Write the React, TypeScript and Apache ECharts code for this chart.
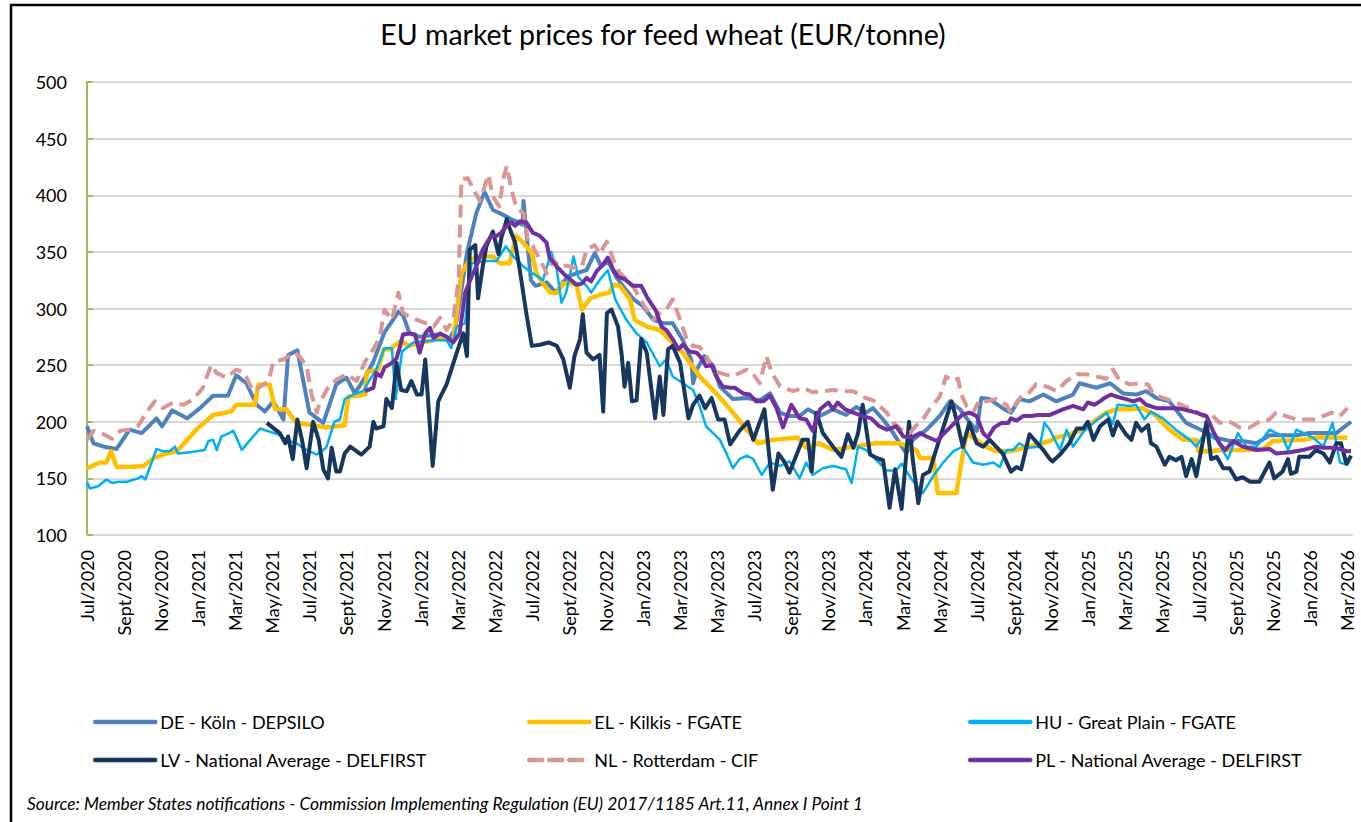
import React, { useEffect, useRef } from 'react';
import * as echarts from 'echarts';

// x = months since Jul 2020 (0 = Jul/2020), y = EUR/tonne
const X_LABELS = [
  'Jul/2020', 'Sept/2020', 'Nov/2020', 'Jan/2021', 'Mar/2021', 'May/2021',
  'Jul/2021', 'Sept/2021', 'Nov/2021', 'Jan/2022', 'Mar/2022', 'May/2022',
  'Jul/2022', 'Sept/2022', 'Nov/2022', 'Jan/2023', 'Mar/2023', 'May/2023',
  'Jul/2023', 'Sept/2023', 'Nov/2023', 'Jan/2024', 'Mar/2024', 'May/2024',
  'Jul/2024', 'Sept/2024', 'Nov/2024', 'Jan/2025', 'Mar/2025', 'May/2025',
  'Jul/2025', 'Sept/2025', 'Nov/2025', 'Jan/2026', 'Mar/2026',
];

const NAMES = [
  'DE - Köln - DEPSILO',
  'EL - Kilkis - FGATE',
  'HU - Great Plain - FGATE',
  'LV - National Average - DELFIRST',
  'NL - Rotterdam - CIF',
  'PL - National Average - DELFIRST',
];

const DE: [number, number][] = [
  [0,196],[0.35,181],[0.9,178],[1.6,176],[2.3,193],[2.95,190],[3.75,203],[4.05,196],[4.6,210],[5.4,203],[6.1,212],[6.8,223],[7.6,223],[8.05,241],[8.6,234],[9.15,215],[9.6,209],[10.05,218],[10.6,202],[10.85,259],[11.35,263],[12.0,208],[12.75,199],[13.45,233],[14.0,239],[14.45,225],[15.0,239],[15.45,253],[16.05,279],[16.8,297],[17.05,294],[17.4,278],[17.95,275],[18.9,277],[19.5,272],[19.8,280],[19.95,290],[20.5,349],[21.0,384],[21.45,403],[21.9,387],[22.3,384],[23.0,378],[23.5,374],[23.55,395],[23.95,325],[24.2,320],[24.8,323],[25.3,314],[25.9,328],[26.4,331],[26.95,334],[27.4,349],[27.75,337],[28.1,342],[28.55,328],[28.9,320],[29.5,308],[30.0,302],[30.55,290],[31.1,287],[31.6,287],[32.15,272],[32.6,255],[32.7,234],[32.9,246],[33.3,258],[33.8,249],[34.15,231],[34.85,220],[35.6,221],[36.3,219],[36.85,225],[37.4,208],[37.9,205],[38.45,205],[38.9,211],[39.55,205],[40.25,211],[40.95,206],[41.5,213],[42.05,208],[42.4,212],[42.95,202],[43.5,190],[44.2,172],[44.55,184],[45.3,193],[46.0,205],[46.55,218],[47.1,211],[47.6,200],[48.0,192],[48.25,221],[48.7,220],[49.4,212],[49.85,208],[50.3,220],[50.85,218],[51.6,224],[52.3,218],[53.2,224],[53.55,234],[54.45,230],[55.2,234],[55.9,225],[56.6,224],[57.15,227],[57.7,221],[58.4,218],[59.3,199],[60.2,192],[60.9,186],[61.65,183],[62.35,183],[63.1,181],[63.8,188],[64.5,188],[65.25,188],[65.95,190],[66.7,190],[67.4,190],[68.2,200],
];

const EL: [number, number][] = [
  [0,159],[0.7,164],[1.05,164],[1.3,174],[1.6,160],[2.3,160],[3.05,161],[3.6,168],[4.3,172],[4.85,174],[5.4,184],[5.9,193],[6.8,206],[7.8,209],[8.05,215],[9.05,215],[9.25,233],[9.85,233],[10.15,211],[10.75,211],[11.3,199],[12.2,197],[12.9,195],[13.9,197],[14.1,222],[15.0,224],[15.1,244],[15.7,246],[16.0,264],[16.35,264],[16.9,271],[17.4,267],[18.0,270],[18.7,272],[19.2,275],[19.75,270],[20.2,331],[20.65,343],[21.2,346],[21.9,346],[22.25,340],[22.8,340],[23.15,364],[23.55,358],[24.0,349],[24.25,331],[24.6,322],[25.0,314],[25.35,314],[25.7,322],[26.4,322],[26.7,299],[27.15,309],[27.65,312],[28.2,314],[28.4,321],[28.75,320],[29.3,308],[29.55,290],[30.2,284],[30.9,281],[31.45,272],[32.15,261],[33.05,240],[33.95,225],[34.7,211],[36.2,181],[37.0,184],[38.35,186],[38.8,177],[39.5,181],[40.25,175],[41.3,178],[42.6,181],[43.85,181],[44.75,175],[44.95,168],[45.65,168],[45.9,137],[46.9,137],[47.45,190],[48.5,178],[49.05,174],[49.8,174],[50.85,178],[51.95,183],[52.3,186],[53.0,189],[53.75,193],[54.45,202],[55.0,208],[55.55,211],[56.3,211],[56.95,212],[57.7,205],[58.4,193],[59.15,184],[59.85,184],[59.95,174],[60.55,174],[61.3,175],[62.7,175],[63.45,176],[64.0,183],[65.6,184],[66.3,186],[68.0,186],
];

const HU: [number, number][] = [
  [0,147],[0.15,141],[0.6,143],[1.05,149],[1.35,146],[1.7,147],[2.15,147],[2.75,150],[2.95,152],[3.15,149],[3.75,176],[4.1,174],[4.45,174],[4.75,178],[4.9,172],[5.55,173],[6.35,175],[6.55,183],[6.8,184],[7.0,175],[7.25,187],[7.55,189],[7.9,192],[8.35,175],[8.7,182],[9.35,194],[9.7,192],[10.3,189],[10.75,184],[11.3,181],[11.85,175],[12.4,171],[12.9,177],[13.35,200],[13.65,202],[13.9,220],[14.35,224],[14.9,227],[15.25,237],[15.6,246],[16.05,265],[16.45,265],[16.65,220],[17.0,262],[17.6,270],[18.3,271],[18.85,272],[19.4,272],[19.65,265],[19.95,284],[20.4,287],[20.55,314],[20.75,340],[21.55,342],[22.1,342],[22.6,355],[23.0,346],[23.55,337],[24.05,331],[24.6,325],[25.05,350],[25.35,334],[25.6,305],[25.85,314],[26.25,346],[26.5,328],[26.95,320],[27.2,314],[27.65,325],[28.1,334],[28.5,308],[29.1,290],[29.65,278],[30.2,270],[30.9,249],[31.25,255],[31.6,240],[32.7,228],[33.05,214],[33.4,196],[34.15,184],[34.5,172],[34.85,159],[35.2,167],[35.6,170],[35.95,167],[36.4,153],[36.85,164],[37.4,161],[37.9,165],[38.45,150],[38.8,164],[39.15,153],[39.7,159],[40.25,161],[40.95,158],[41.25,146],[41.6,178],[42.05,175],[42.6,166],[43.15,157],[43.65,157],[43.95,163],[44.5,149],[45.1,137],[45.65,152],[46.2,164],[46.75,174],[47.25,178],[47.8,164],[48.35,162],[48.9,164],[49.25,160],[49.6,175],[49.95,175],[50.3,181],[50.7,177],[51.4,178],[51.65,199],[51.95,193],[52.1,188],[52.5,175],[52.85,193],[53.2,178],[53.75,191],[54.3,199],[55.0,208],[55.35,198],[55.6,215],[56.25,214],[56.6,215],[57.05,202],[57.4,209],[58.05,203],[58.75,193],[59.5,184],[59.85,178],[60.3,190],[60.95,184],[61.55,167],[62.1,190],[62.55,178],[63.1,178],[63.8,193],[64.5,187],[64.8,175],[65.25,193],[66.15,186],[66.7,178],[67.2,199],[67.6,164],[68.0,162],[68.2,170],
];

const LV: [number, number][] = [
  [9.7,199],[10.4,190],[10.7,181],[10.85,187],[11.1,167],[11.35,202],[11.6,184],[11.85,159],[12.2,200],[12.5,184],[12.75,158],[13.0,150],[13.2,177],[13.45,156],[13.65,156],[13.9,172],[14.2,178],[14.8,171],[15.25,178],[15.45,200],[15.6,194],[16.0,196],[16.15,220],[16.45,212],[16.7,252],[16.95,228],[17.25,227],[17.5,236],[17.8,224],[18.05,224],[18.25,255],[18.65,161],[18.95,218],[19.4,233],[19.95,261],[20.3,278],[20.5,258],[20.65,352],[20.95,356],[21.1,309],[21.35,337],[21.55,355],[21.9,368],[22.2,348],[22.35,362],[22.65,379],[22.8,371],[23.1,358],[23.35,334],[23.7,296],[24.0,267],[24.45,268],[24.9,270],[25.35,267],[25.7,255],[26.05,230],[26.3,258],[26.6,273],[26.75,295],[26.95,261],[27.3,255],[27.65,259],[27.85,209],[28.05,296],[28.3,299],[28.65,284],[28.85,259],[29.0,231],[29.2,252],[29.4,218],[29.65,219],[29.9,273],[30.2,261],[30.65,203],[30.9,240],[31.1,206],[31.35,264],[31.6,267],[32.0,252],[32.45,203],[32.7,215],[33.05,223],[33.35,212],[33.7,221],[34.05,202],[34.4,202],[34.7,180],[35.2,192],[35.65,200],[35.95,184],[36.55,211],[37.0,140],[37.3,172],[37.65,164],[37.9,155],[38.6,184],[38.9,184],[39.1,156],[39.35,208],[39.7,190],[40.25,178],[40.7,169],[41.05,189],[41.35,177],[41.6,190],[41.85,215],[42.25,171],[42.6,168],[42.95,166],[43.3,124],[43.6,158],[43.95,123],[44.35,200],[44.55,167],[44.85,128],[45.1,153],[45.45,156],[45.75,172],[46.1,190],[46.65,218],[47.0,196],[47.25,178],[47.6,199],[48.0,181],[48.35,178],[48.7,184],[49.4,172],[49.85,156],[50.15,160],[50.4,158],[50.85,189],[51.6,175],[51.95,167],[52.1,165],[52.5,171],[53.0,181],[53.4,194],[53.75,194],[54.0,200],[54.3,184],[54.65,196],[55.1,202],[55.35,188],[55.6,200],[56.05,189],[56.35,184],[56.6,199],[56.9,192],[57.25,197],[57.4,181],[57.7,178],[58.15,162],[58.4,169],[58.75,166],[59.05,169],[59.3,152],[59.6,167],[59.85,152],[60.4,200],[60.65,167],[60.95,169],[61.3,159],[61.65,159],[62.0,149],[62.35,151],[62.75,147],[63.25,147],[63.8,164],[64.05,150],[64.5,156],[64.8,167],[64.95,154],[65.25,156],[65.4,169],[65.95,169],[66.3,175],[66.7,172],[67.05,164],[67.4,181],[67.65,181],[67.95,163],[68.2,170],
];

const NL: [number, number][] = [
  [0,184],[0.35,192],[0.9,189],[1.35,185],[1.8,192],[2.3,193],[2.75,196],[3.2,208],[3.65,218],[4.1,212],[4.65,217],[5.2,215],[5.75,220],[6.25,230],[6.7,250],[7.0,243],[7.55,239],[8.05,246],[8.5,243],[8.95,227],[9.35,231],[9.8,236],[10.05,253],[10.6,255],[11.15,261],[11.4,259],[11.85,249],[12.1,225],[12.4,208],[12.55,217],[13.0,230],[13.45,237],[14.0,242],[14.55,236],[15.0,253],[15.45,264],[15.8,275],[16.05,299],[16.45,290],[16.8,314],[17.05,296],[17.4,293],[17.95,289],[18.7,284],[19.05,292],[19.4,281],[19.75,290],[20.05,325],[20.2,414],[20.55,415],[20.85,405],[21.2,395],[21.65,418],[21.9,399],[22.25,390],[22.45,414],[22.65,426],[22.9,405],[23.15,390],[23.55,384],[23.8,358],[24.05,355],[24.45,343],[24.8,331],[25.15,343],[25.5,337],[25.85,338],[26.25,336],[26.7,337],[26.95,352],[27.4,356],[27.65,348],[28.05,359],[28.4,343],[28.75,331],[29.1,326],[29.45,320],[29.85,308],[30.55,290],[30.9,296],[31.25,299],[31.6,308],[32.0,290],[32.35,273],[32.7,267],[33.05,266],[33.4,258],[33.8,246],[34.15,243],[34.85,240],[35.2,243],[35.6,246],[35.95,242],[36.3,234],[36.65,258],[36.95,243],[37.4,231],[38.1,227],[38.65,230],[39.15,226],[39.7,227],[40.25,228],[40.8,227],[41.35,227],[41.85,222],[42.4,219],[42.75,214],[43.15,208],[43.5,199],[43.95,193],[44.4,190],[44.75,197],[45.1,202],[45.45,211],[46.0,222],[46.35,240],[46.65,236],[47.0,238],[47.15,225],[47.45,214],[47.8,208],[48.15,219],[48.5,218],[49.05,220],[49.6,215],[49.85,208],[50.15,217],[50.5,224],[50.85,226],[51.2,233],[51.6,232],[51.95,230],[52.3,227],[52.85,236],[53.4,242],[53.9,242],[54.45,240],[55.0,238],[55.35,246],[55.7,237],[56.25,233],[56.8,234],[57.25,233],[57.5,225],[58.05,221],[58.6,218],[59.15,214],[59.65,211],[60.2,205],[60.65,207],[61.1,199],[61.65,200],[62.2,195],[62.75,195],[63.25,200],[63.8,202],[64.15,208],[64.7,205],[65.25,202],[65.8,202],[66.3,202],[66.7,205],[67.15,208],[67.6,205],[68.0,212],
];

const PL: [number, number][] = [
  [15.0,227],[15.45,230],[15.6,243],[15.85,240],[16.05,248],[16.45,252],[16.7,256],[16.9,267],[17.05,277],[17.4,278],[17.7,277],[17.95,261],[18.25,278],[18.5,283],[18.7,274],[19.05,278],[19.4,275],[19.75,270],[20.1,278],[20.4,314],[20.75,328],[21.0,337],[21.35,352],[21.8,364],[22.1,364],[22.35,367],[22.65,373],[22.9,376],[23.1,373],[23.35,377],[23.7,376],[24.05,367],[24.45,364],[24.8,358],[24.95,345],[25.35,337],[25.7,331],[26.05,326],[26.4,321],[26.7,322],[26.95,327],[27.2,324],[27.5,333],[27.85,339],[28.1,345],[28.4,334],[28.65,328],[29.0,326],[29.45,320],[29.9,320],[30.25,309],[30.7,298],[31.0,284],[31.25,281],[31.6,273],[31.9,264],[32.15,268],[32.5,262],[32.9,261],[33.15,256],[33.4,249],[33.7,250],[33.95,240],[34.3,231],[34.7,230],[34.95,230],[35.4,225],[35.75,224],[36.1,218],[36.5,218],[36.85,223],[37.2,212],[37.55,195],[38.0,215],[38.45,203],[38.8,202],[39.15,192],[39.55,211],[40.0,217],[40.25,211],[40.5,217],[40.9,211],[41.35,208],[41.85,205],[42.3,203],[42.75,196],[43.15,193],[43.65,196],[44.05,187],[44.5,186],[44.95,190],[45.3,187],[45.85,183],[46.2,189],[46.75,198],[47.2,206],[47.6,208],[48.0,205],[48.35,190],[48.6,186],[48.95,195],[49.35,199],[49.7,199],[49.85,203],[50.15,201],[50.5,205],[50.95,205],[51.3,206],[51.95,206],[52.65,211],[53.2,214],[53.75,211],[54.0,217],[54.35,215],[54.65,218],[54.9,221],[55.25,224],[55.6,222],[56.05,220],[56.45,218],[56.8,220],[57.15,215],[57.7,212],[58.25,212],[58.75,212],[59.15,211],[59.85,208],[60.4,205],[60.75,192],[61.1,181],[61.4,175],[61.85,183],[62.35,178],[63.1,175],[63.8,176],[64.15,172],[64.9,173],[65.6,175],[66.3,178],[66.7,177],[67.4,177],[67.95,174],[68.2,174],
];

const TITLE = 'EU market prices for feed wheat (EUR/tonne)';
const SOURCE = 'Source: Member States notifications - Commission Implementing Regulation (EU) 2017/1185 Art.11, Annex I Point 1';

const FONT = 'Lato';

export default function App() {
  const ref = useRef<HTMLDivElement>(null);

  useEffect(() => {
    if (!ref.current) return;
    const chart = echarts.init(ref.current, null, { renderer: 'svg' });

    const line = (name: string, data: [number, number][], color: string, width: number, type: any = 'solid') => ({
      name,
      type: 'line',
      data,
      symbol: 'none',
      showSymbol: false,
      lineStyle: { color, width, type, join: 'round', cap: 'butt' },
      itemStyle: { color },
      emphasis: { disabled: true },
    });

    const legendBase = {
      orient: 'vertical',
      top: 713,
      padding: 0,
      itemWidth: 60,
      itemHeight: 14,
      itemGap: 20,
      selectedMode: false,
      itemStyle: { opacity: 0 },
      lineStyle: { width: 4.5, cap: 'round' },
      textStyle: { fontSize: 18, color: '#000', fontFamily: FONT, lineHeight: 18 },
    };

    chart.setOption({
      animation: false,
      backgroundColor: '#ffffff',
      textStyle: { fontFamily: FONT },
      grid: { left: 87, right: 9, top: 82, bottom: 287, containLabel: false },
      xAxis: {
        type: 'value',
        min: 0,
        max: 68.25,
        interval: 2,
        axisLine: { show: true, onZero: false, lineStyle: { color: '#D9D9D9', width: 2 } },
        axisTick: { show: false },
        splitLine: { show: false },
        axisLabel: {
          rotate: 90,
          margin: 15,
          fontSize: 18,
          color: '#000',
          fontFamily: FONT,
          showMaxLabel: false,
          formatter: (v: number) => {
            const i = v / 2;
            if (Math.abs(i - Math.round(i)) > 1e-6) return '';
            return X_LABELS[Math.round(i)] ?? '';
          },
        },
      },
      yAxis: {
        type: 'value',
        min: 100,
        max: 500,
        interval: 50,
        axisLine: { show: true, onZero: false, lineStyle: { color: '#9BBB59', width: 2 } },
        axisTick: { show: true, inside: true, length: 6, lineStyle: { color: '#9BBB59', width: 2 } },
        splitLine: { show: true, lineStyle: { color: '#D9D9D9', width: 2 } },
        axisLabel: { fontSize: 18, color: '#000', margin: 20, fontFamily: FONT },
      },
      legend: [
        { ...legendBase, left: 93, data: [NAMES[0], NAMES[3]] },
        { ...legendBase, left: 527, data: [NAMES[1], NAMES[4]] },
        { ...legendBase, left: 968, data: [NAMES[2], NAMES[5]] },
      ],
      graphic: [
        {
          type: 'rect',
          shape: { x: 11, y: 5, width: 1400, height: 900 },
          style: { fill: 'none', stroke: '#000', lineWidth: 2.5 },
          silent: true,
        },
        {
          type: 'text',
          x: 663,
          y: 34,
          style: { text: TITLE, fill: '#000', fontSize: 28.5, fontFamily: FONT, align: 'center', verticalAlign: 'middle' },
          silent: true,
        },
        {
          type: 'text',
          x: 27,
          y: 803,
          style: { text: SOURCE, fill: '#000', fontSize: 17.35, fontStyle: 'italic', fontFamily: FONT, align: 'left', verticalAlign: 'middle' },
          silent: true,
        },
      ],
      series: [
        line(NAMES[0], DE, '#4F81BD', 4),
        line(NAMES[1], EL, '#FFC000', 4.5),
        line(NAMES[2], HU, '#00B0F0', 2.5),
        line(NAMES[3], LV, '#17375E', 4),
        line(NAMES[4], NL, '#D99694', 4, [13, 7]),
        line(NAMES[5], PL, '#7030A0', 4),
      ],
    });

    return () => chart.dispose();
  }, []);

  return (
    <div
      ref={ref}
      style={{ position: 'absolute', left: 0, top: 0, width: 1361, height: 822, background: '#fff' }}
    />
  );
}
